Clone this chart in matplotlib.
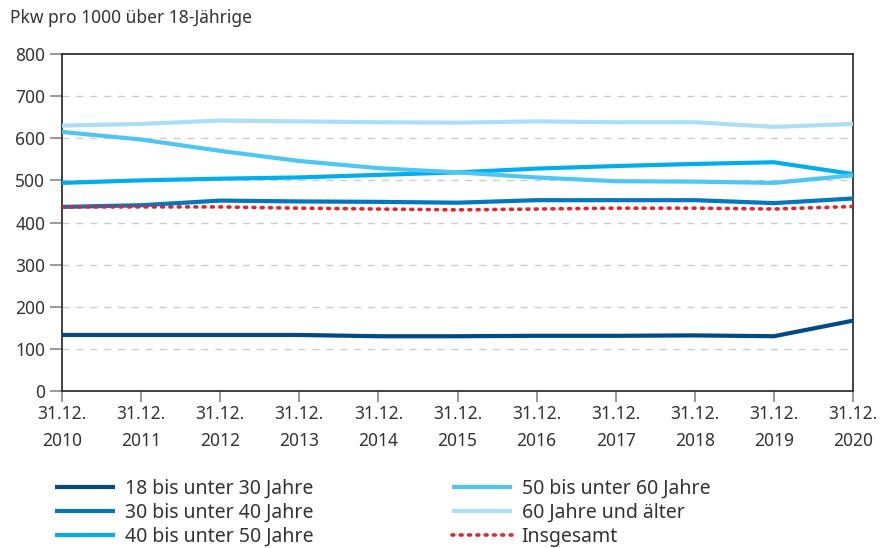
import matplotlib
matplotlib.use("Agg")
import matplotlib.pyplot as plt

years = ["2010", "2011", "2012", "2013", "2014", "2015", "2016", "2017", "2018", "2019", "2020"]
tick_labels = ["31.12.\n" + y for y in years]

s_18_30 = [133, 133, 133, 133, 130, 130, 131, 131, 132, 130, 167]
s_30_40 = [437, 441, 452, 450, 449, 447, 453, 453, 453, 446, 457]
s_40_50 = [494, 500, 504, 507, 513, 519, 528, 534, 539, 543, 515]
s_50_60 = [615, 597, 570, 546, 529, 519, 507, 498, 497, 494, 512]
s_60plus = [630, 634, 642, 640, 638, 637, 640, 638, 638, 627, 634]
s_total = [437, 437, 437, 434, 432, 430, 432, 434, 434, 432, 438]

names = ["18 bis unter 30 Jahre", "30 bis unter 40 Jahre", "40 bis unter 50 Jahre",
         "50 bis unter 60 Jahre", "60 Jahre und älter", "Insgesamt"]
colors = ["#004a87", "#0077be", "#00aeef", "#4cc7f4", "#abdff8", "#e8202a"]

plt.rcParams['font.family'] = ['Noto Sans', 'DejaVu Sans']
fs = 12.5
fig = plt.figure(figsize=(8.86, 5.48), dpi=100)
ax = fig.add_axes([62/886, 1-391/548, (853-62)/886, (391-54)/548])

x = list(range(len(years)))
series = [s_18_30, s_30_40, s_40_50, s_50_60, s_60plus]
handles = []
for s, c, n in zip(series, colors[:5], names[:5]):
    h, = ax.plot(x, s, color=c, lw=3.0, solid_capstyle='butt', label=n, zorder=3)
    handles.append(h)
h, = ax.plot(x, s_total, color=colors[5], lw=2.6, ls=(0, (0.5, 1.8)),
             dash_capstyle='round', label=names[5], zorder=4)
handles.append(h)

ax.set_xlim(0, 10)
ax.set_ylim(0, 800)
ax.set_yticks(range(0, 801, 100))
ax.set_xticks(x)
ax.set_xticklabels(tick_labels, fontsize=fs, color="#333333", linespacing=1.62)
ax.tick_params(axis='y', labelsize=fs, labelcolor="#333333", length=9, color="#888888", width=1.2, pad=3)
ax.tick_params(axis='x', length=8, color="#888888", width=1.2, pad=2)
for yv in range(100, 800, 100):
    ax.axhline(yv, color="#cccccc", lw=1, ls=(0, (5, 5)), zorder=1)
for sp in ax.spines.values():
    sp.set_color("#333333")
    sp.set_linewidth(1.3)

fig.text(10/886, 1-18/548, "Pkw pro 1000 über 18-Jährige", fontsize=fs, color="#333333",
         ha='left', va='center')

lfs = 14
leg = fig.legend(handles=handles, loc='upper left', bbox_to_anchor=(55/886, 1-479/548),
                 ncol=2, frameon=False, fontsize=lfs, handlelength=3.1, handletextpad=0.5,
                 columnspacing=7.1, labelspacing=0.2, borderaxespad=0, borderpad=0)
for t in leg.get_texts():
    t.set_color("#333333")

fig.savefig("out.png", dpi=100)
